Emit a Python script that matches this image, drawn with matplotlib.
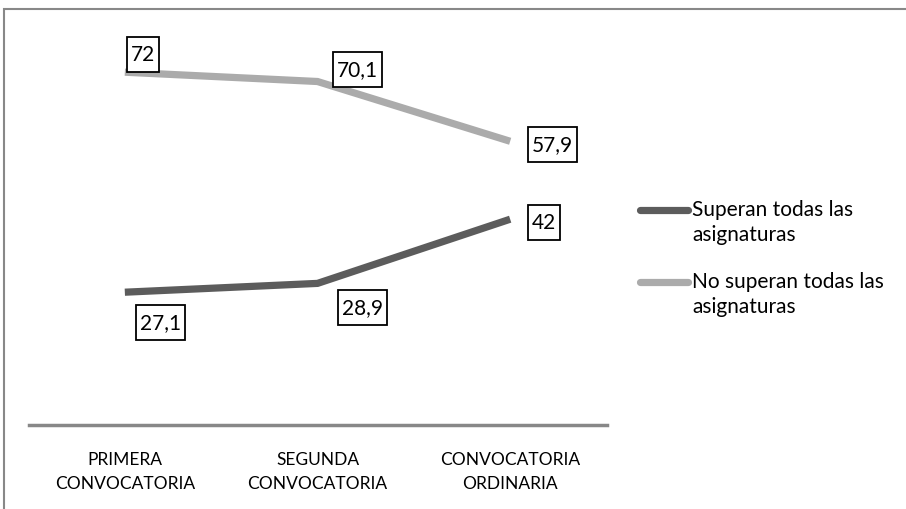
import matplotlib.pyplot as plt
from matplotlib.patches import Rectangle
from matplotlib.transforms import IdentityTransform

categorias = ['PRIMERA\nCONVOCATORIA', 'SEGUNDA\nCONVOCATORIA', 'CONVOCATORIA\nORDINARIA']
superan = [27.1, 28.9, 42]
no_superan = [72, 70.1, 57.9]
series = ['Superan todas las\nasignaturas', 'No superan todas las\nasignaturas']

plt.rcParams['font.family'] = ['Lato', 'DejaVu Sans']

fig = plt.figure(figsize=(9.06, 5.10), dpi=100)
ax = fig.add_axes([28.5 / 906, 1 - 426 / 510, 578 / 906, 392 / 510])

x = range(len(categorias))
ax.plot(x, superan, color='#5c5c5c', lw=5.2, solid_capstyle='butt', solid_joinstyle='miter', zorder=3)
ax.plot(x, no_superan, color='#ababab', lw=5.2, solid_capstyle='butt', solid_joinstyle='miter', zorder=3)

etiquetas = []

def etiqueta(xi, yi, dx, dy):
    txt = f'{yi:g}'.replace('.', ',')
    t = ax.annotate(txt, (xi, yi), xytext=(dx, dy), textcoords='offset pixels',
                    ha='center', va='center', fontsize=15, zorder=6)
    etiquetas.append(t)

# etiquetas de valor (desplazamiento en píxeles)
etiqueta(0, no_superan[0], 18, 18)
etiqueta(1, no_superan[1], 40, 12)
etiqueta(2, no_superan[2], 42, -3)
etiqueta(2, superan[2], 34, -3)
etiqueta(0, superan[0], 36, -30)
etiqueta(1, superan[1], 45, -24)

ax.set_xlim(-0.5, 2.5)
ax.set_ylim(0, 80)
ax.set_xticks(list(x))
ax.set_xticklabels(categorias, fontsize=12.5, linespacing=1.55)
ax.tick_params(axis='x', length=0, pad=19)
ax.set_yticks([])
for lado in ['top', 'right', 'left']:
    ax.spines[lado].set_visible(False)
ax.spines['bottom'].set_color('#888888')
ax.spines['bottom'].set_linewidth(2.5)

# recuadros de las etiquetas: más altos que anchos, como en Excel
renderer = fig.canvas.get_renderer()
for t in etiquetas:
    bb = t.get_window_extent(renderer)
    cx, cy = (bb.x0 + bb.x1) / 2, (bb.y0 + bb.y1) / 2
    w, h = bb.width + 8, 35
    ax.add_artist(Rectangle((cx - w / 2, cy - h / 2), w, h, transform=IdentityTransform(),
                            fc='white', ec='black', lw=1.3, zorder=5, clip_on=False))

# leyenda a la derecha
for i, (nombre, col) in enumerate(zip(series, ['#5c5c5c', '#ababab'])):
    y0 = 1 - (211 + 72 * i) / 510
    fig.add_artist(plt.Line2D([640 / 906, 688 / 906], [y0, y0], color=col, lw=5.2,
                              solid_capstyle='round'))
    fig.text(692 / 906, y0 + 11 / 510, nombre, fontsize=15, va='top', ha='left',
             linespacing=1.3, transform=fig.transFigure)

# marco del gráfico
fig.add_artist(Rectangle((4 / 906, -0.1), 1.2, 1.08, transform=fig.transFigure,
                         fill=False, ec='#888888', lw=1.5))

fig.savefig('out.png', dpi=100)
